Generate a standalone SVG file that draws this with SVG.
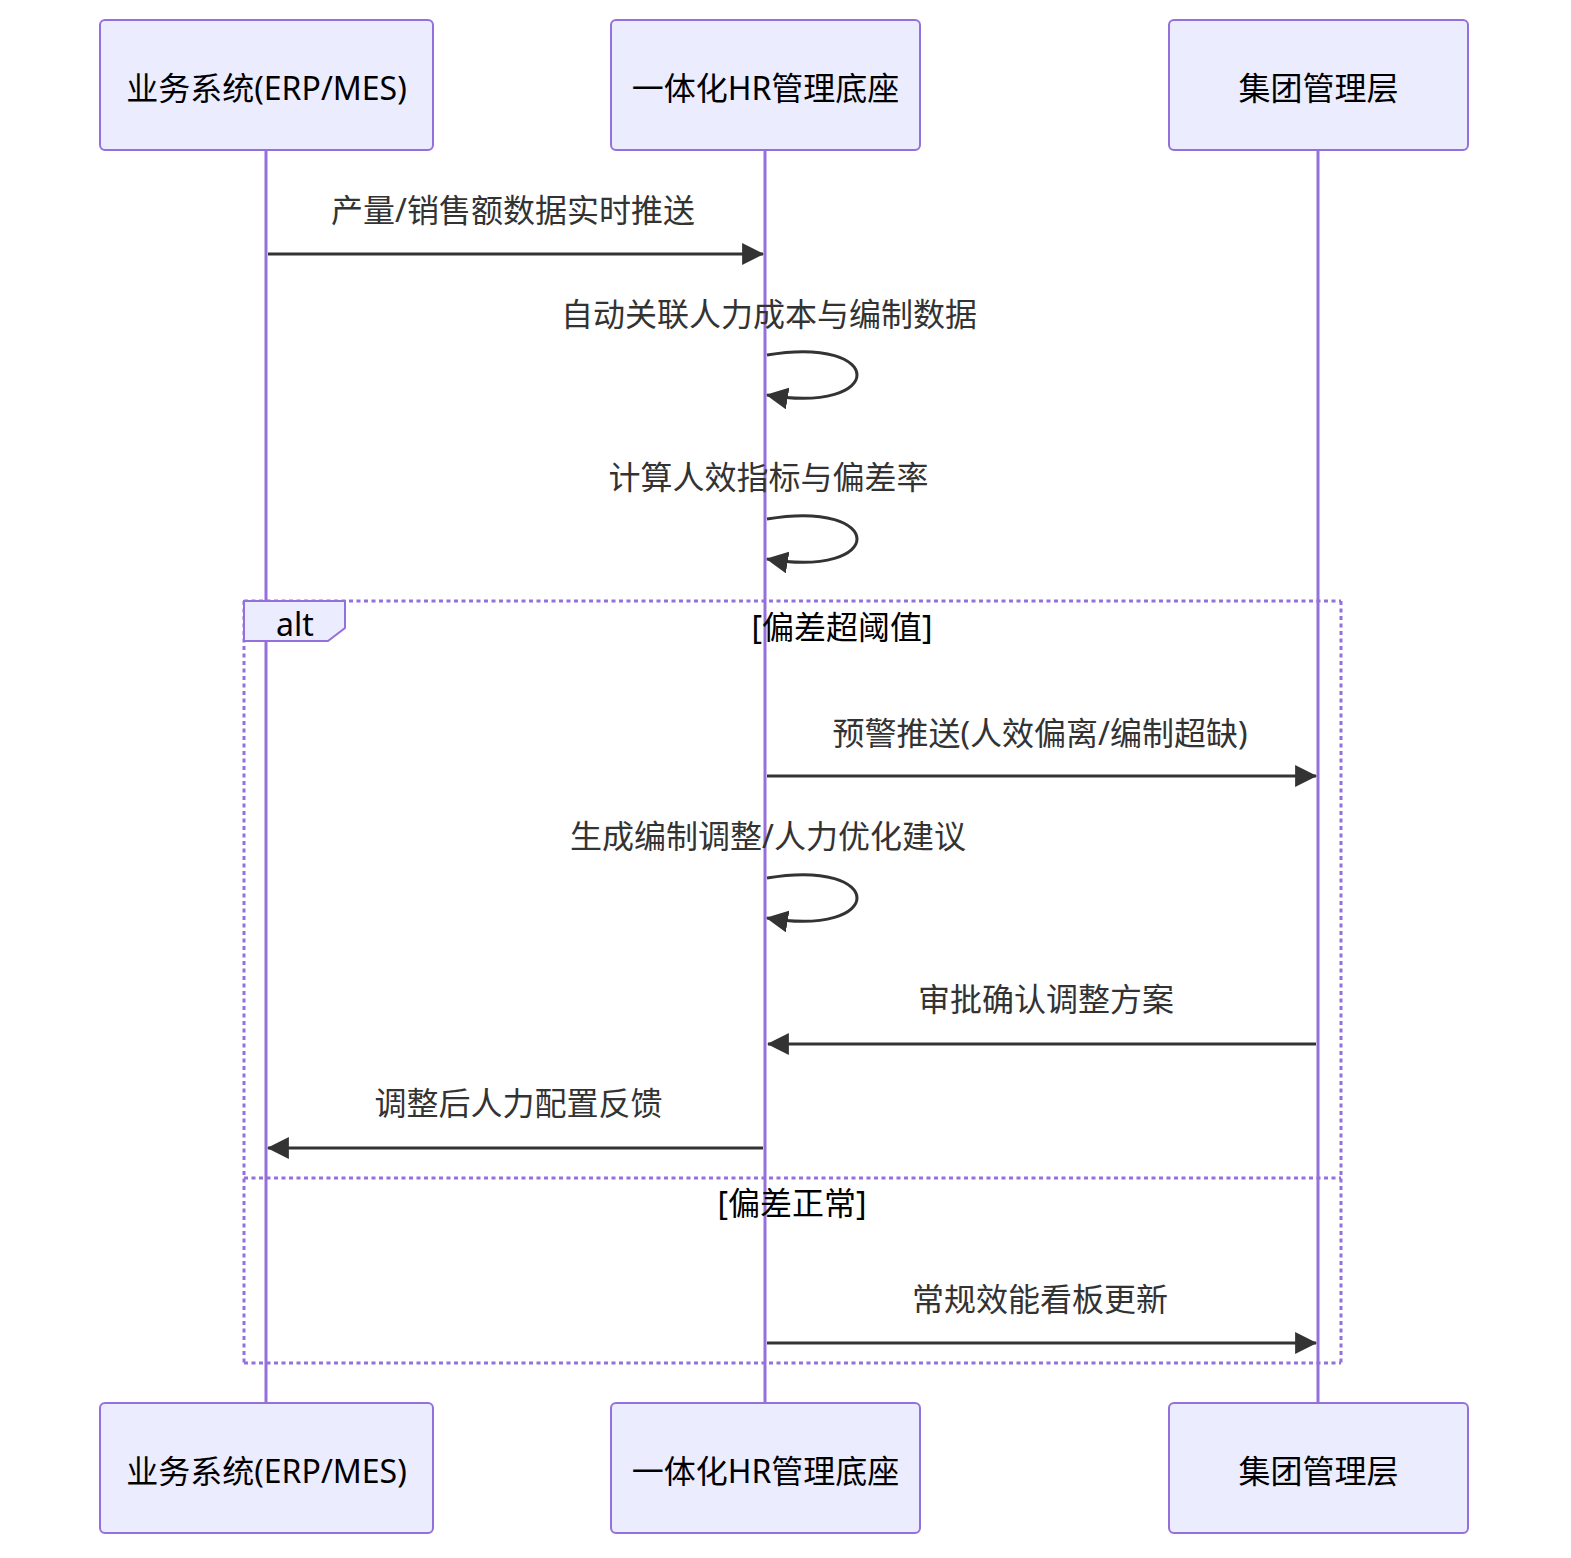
<svg xmlns="http://www.w3.org/2000/svg" width="1571" height="1558" viewBox="0 0 1571 1558">
<defs>
<marker id="arrow" markerUnits="userSpaceOnUse" markerWidth="22" markerHeight="22" viewBox="0 0 20 20" refX="19" refY="10" orient="auto-start-reverse">
<path d="M0,0 L20,10 L0,20 z" fill="#333"/>
</marker>
<style>
.actor rect{fill:#ECECFF;stroke:#9370DB;stroke-width:2}
.actor text{font-family:"Noto Sans","Noto Sans CJK SC",sans-serif;font-size:32px;fill:#000;text-anchor:middle;dominant-baseline:central}
.life{stroke:#9370DB;stroke-width:3}
.msg{stroke:#333;stroke-width:3;fill:none;marker-end:url(#arrow)}
.mtext{font-family:"Noto Sans","Noto Sans CJK SC",sans-serif;font-size:32px;fill:#333;text-anchor:middle;dominant-baseline:central}
.loop{stroke:#9370DB;stroke-width:3;stroke-dasharray:4 3.5;fill:none}
.ltext{font-family:"Noto Sans","Noto Sans CJK SC",sans-serif;font-size:32px;fill:#000;text-anchor:middle;dominant-baseline:central}
</style>
</defs>
<rect width="1571" height="1558" fill="#fff"/>
<g id="lifelines">
<line class="life" x1="266" y1="150" x2="266" y2="1403"/>
<line class="life" x1="765" y1="150" x2="765" y2="1403"/>
<line class="life" x1="1318" y1="150" x2="1318" y2="1403"/>
</g>
<g id="actor-erp-top" class="actor"><rect x="100" y="20" width="333" height="130" rx="5"/><text x="266.5" y="87">业务系统(ERP/MES)</text></g>
<g id="actor-hr-top" class="actor"><rect x="611" y="20" width="309" height="130" rx="5"/><text x="765.5" y="87">一体化HR管理底座</text></g>
<g id="actor-mgmt-top" class="actor"><rect x="1169" y="20" width="299" height="130" rx="5"/><text x="1318.5" y="87">集团管理层</text></g>
<g id="actor-erp-bottom" class="actor"><rect x="100" y="1403" width="333" height="130" rx="5"/><text x="266.5" y="1470">业务系统(ERP/MES)</text></g>
<g id="actor-hr-bottom" class="actor"><rect x="611" y="1403" width="309" height="130" rx="5"/><text x="765.5" y="1470">一体化HR管理底座</text></g>
<g id="actor-mgmt-bottom" class="actor"><rect x="1169" y="1403" width="299" height="130" rx="5"/><text x="1318.5" y="1470">集团管理层</text></g>
<g id="alt-block">
<line class="loop" x1="244" y1="601" x2="1341" y2="601"/>
<line class="loop" x1="1341" y1="601" x2="1341" y2="1363"/>
<line class="loop" x1="244" y1="1363" x2="1341" y2="1363"/>
<line class="loop" x1="244" y1="601" x2="244" y2="1363"/>
<line class="loop" x1="244" y1="1178" x2="1341" y2="1178"/>
<polygon points="244,601 345,601 345,628 328,641 244,641" fill="#ECECFF" stroke="#9370DB" stroke-width="2"/>
<text class="ltext" x="295" y="623">alt</text>
<text class="ltext" x="842" y="626">[偏差超阈值]</text>
<text class="ltext" x="792" y="1202">[偏差正常]</text>
</g>
<g id="connectors">
<text class="mtext" x="513" y="209">产量/销售额数据实时推送</text>
<line class="msg" x1="268" y1="254" x2="763" y2="254"/>
<text class="mtext" x="769" y="313">自动关联人力成本与编制数据</text>
<path class="msg" d="M767,355 C887,335 887,415 767,395"/>
<text class="mtext" x="768.5" y="476">计算人效指标与偏差率</text>
<path class="msg" d="M767,519 C887,499 887,579 767,559"/>
<text class="mtext" x="1040" y="732">预警推送(人效偏离/编制超缺)</text>
<line class="msg" x1="767" y1="776" x2="1316" y2="776"/>
<text class="mtext" x="768" y="835">生成编制调整/人力优化建议</text>
<path class="msg" d="M767,878 C887,858 887,938 767,918"/>
<text class="mtext" x="1046" y="998">审批确认调整方案</text>
<line class="msg" x1="1316" y1="1044" x2="768" y2="1044"/>
<text class="mtext" x="518.5" y="1102">调整后人力配置反馈</text>
<line class="msg" x1="763" y1="1148" x2="268" y2="1148"/>
<text class="mtext" x="1040" y="1298">常规效能看板更新</text>
<line class="msg" x1="767" y1="1343" x2="1316" y2="1343"/>
</g>
</svg>
